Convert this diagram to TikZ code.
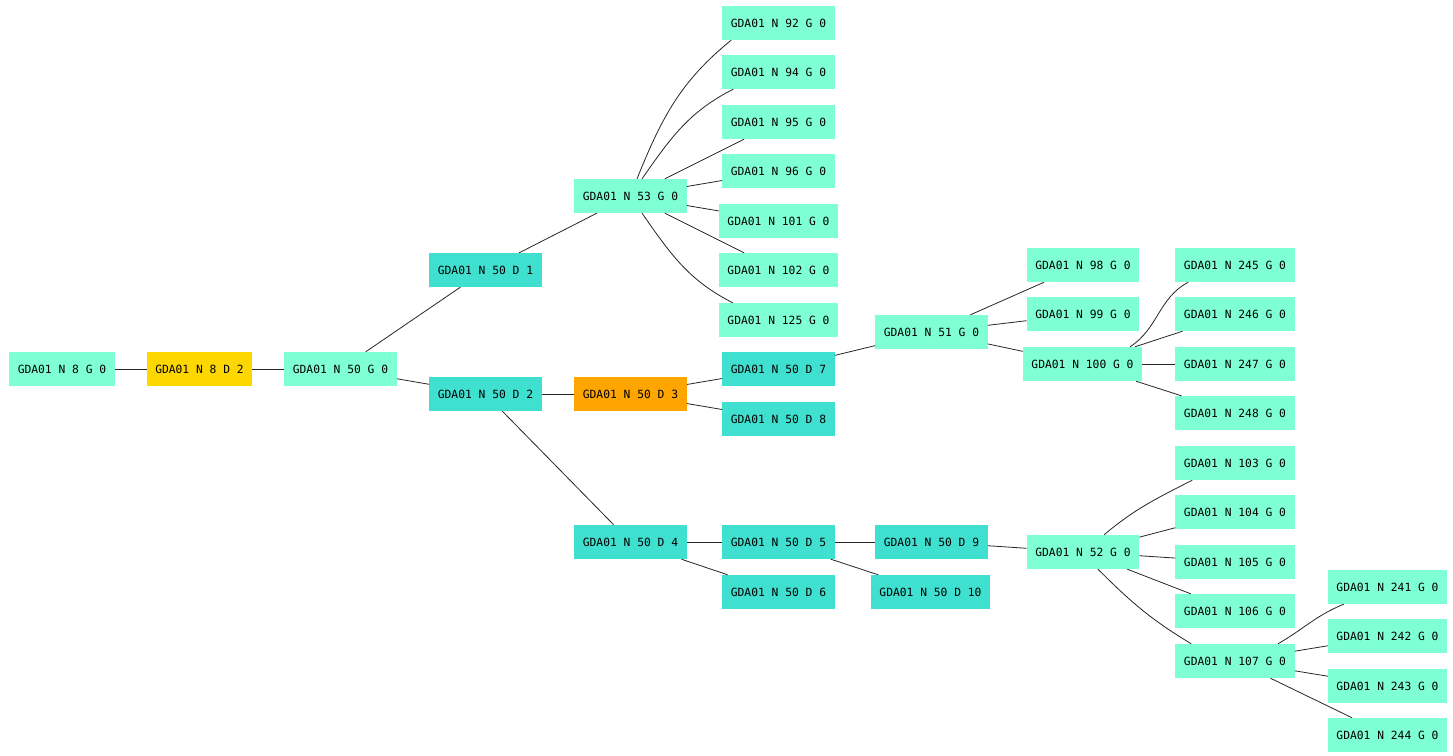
\documentclass[tikz,border=0pt]{standalone}
\usepackage{fontspec}
\setmonofont{DejaVu Sans Mono}
\definecolor{aqua}{HTML}{7FFFD4}
\definecolor{turq}{HTML}{40E0D0}
\definecolor{goldc}{HTML}{FFD700}
\definecolor{orangec}{HTML}{FFA500}
\begin{document}
\begin{tikzpicture}[x=1pt,y=-1pt,
  box/.style={rectangle,inner xsep=8.5pt,inner ysep=0pt,minimum height=34pt,
    font=\ttfamily\fontsize{11.3}{13}\selectfont,text=black},
  gn/.style={box,fill=aqua},
  dn/.style={box,fill=turq},
  edge/.style={draw=black!85,line width=0.8pt}]
\useasboundingbox (0,0) rectangle (1453,755);
% nodes
\node[gn] (n8g) at (62,369) {GDA01 N 8 G 0};
\node[box,fill=goldc] (n8d2) at (199.5,369) {GDA01 N 8 D 2};
\node[gn] (n50g) at (340.5,369) {GDA01 N 50 G 0};
\node[dn] (d1) at (485.5,270) {GDA01 N 50 D 1};
\node[dn] (d2) at (485.5,394) {GDA01 N 50 D 2};
\node[gn] (n53) at (630.5,196) {GDA01 N 53 G 0};
\node[gn] (n92) at (778.5,23) {GDA01 N 92 G 0};
\node[gn] (n94) at (778.5,72) {GDA01 N 94 G 0};
\node[gn] (n95) at (778.5,122) {GDA01 N 95 G 0};
\node[gn] (n96) at (778.5,171) {GDA01 N 96 G 0};
\node[gn] (n101) at (778.5,221) {GDA01 N 101 G 0};
\node[gn] (n102) at (778.5,270) {GDA01 N 102 G 0};
\node[gn] (n125) at (778.5,320) {GDA01 N 125 G 0};
\node[box,fill=orangec] (d3) at (630.5,394) {GDA01 N 50 D 3};
\node[dn] (d7) at (778.5,369) {GDA01 N 50 D 7};
\node[dn] (d8) at (778.5,419) {GDA01 N 50 D 8};
\node[gn] (n51) at (931.5,332) {GDA01 N 51 G 0};
\node[gn] (n98) at (1083,265) {GDA01 N 98 G 0};
\node[gn] (n99) at (1083,314) {GDA01 N 99 G 0};
\node[gn] (n100) at (1082.5,364) {GDA01 N 100 G 0};
\node[gn] (n245) at (1235,265) {GDA01 N 245 G 0};
\node[gn] (n246) at (1235,314) {GDA01 N 246 G 0};
\node[gn] (n247) at (1235,364) {GDA01 N 247 G 0};
\node[gn] (n248) at (1235,413) {GDA01 N 248 G 0};
\node[dn] (d4) at (630.5,542) {GDA01 N 50 D 4};
\node[dn] (d5) at (778.5,542) {GDA01 N 50 D 5};
\node[dn] (d6) at (778.5,592) {GDA01 N 50 D 6};
\node[dn] (d9) at (931.5,542) {GDA01 N 50 D 9};
\node[dn] (d10) at (930.5,592) {GDA01 N 50 D 10};
\node[gn] (n52) at (1083,552) {GDA01 N 52 G 0};
\node[gn] (n103) at (1235,463) {GDA01 N 103 G 0};
\node[gn] (n104) at (1235,512) {GDA01 N 104 G 0};
\node[gn] (n105) at (1235,562) {GDA01 N 105 G 0};
\node[gn] (n106) at (1235,611) {GDA01 N 106 G 0};
\node[gn] (n107) at (1235,661) {GDA01 N 107 G 0};
\node[gn] (n241) at (1387.5,587) {GDA01 N 241 G 0};
\node[gn] (n242) at (1387.5,636) {GDA01 N 242 G 0};
\node[gn] (n243) at (1387.5,686) {GDA01 N 243 G 0};
\node[gn] (n244) at (1387.5,735) {GDA01 N 244 G 0};
% edges
\path[edge] (n8g) -- (n8d2);
\path[edge] (n8d2) -- (n50g);
\path[edge] (n50g) -- (d1);
\path[edge] (n50g) -- (d2);
\path[edge] (d1) -- (n53);
\path[edge] ([xshift=6.5pt]n53.north) to[out=68,in=219] ([xshift=9pt]n92.south west);
\path[edge] ([xshift=11.5pt]n53.north) to[out=55,in=207] ([xshift=11pt]n94.south west);
\path[edge] (n53) -- (n95);
\path[edge] (n53) -- (n96);
\path[edge] (n53) -- (n101);
\path[edge] (n53) -- (n102);
\path[edge] ([xshift=11.5pt]n53.south) to[out=-55,in=153] ([xshift=14pt]n125.north west);
\path[edge] (d2) -- (d3);
\path[edge] (d2) -- (d4);
\path[edge] (d3) -- (d7);
\path[edge] (d3) -- (d8);
\path[edge] (d7) -- (n51);
\path[edge] (n51) -- (n98);
\path[edge] (n51) -- (n99);
\path[edge] (n51) -- (n100);
\path[edge] ([xshift=47.5pt]n100.north) to[out=33,in=208] ([xshift=13pt]n245.south west);
\path[edge] (n100) -- (n246);
\path[edge] (n100) -- (n247);
\path[edge] (n100) -- (n248);
\path[edge] (d4) -- (d5);
\path[edge] (d4) -- (d6);
\path[edge] (d5) -- (d9);
\path[edge] (d5) -- (d10);
\path[edge] (d9) -- (n52);
\path[edge] ([xshift=21pt]n52.north) to[out=40,in=207] ([xshift=17pt]n103.south west);
\path[edge] (n52) -- (n104);
\path[edge] (n52) -- (n105);
\path[edge] (n52) -- (n106);
\path[edge] ([xshift=15pt]n52.south) to[out=-45,in=149] ([xshift=16pt]n107.north west);
\path[edge] ([xshift=43pt]n107.north) to[out=30,in=202] ([xshift=16pt]n241.south west);
\path[edge] (n107) -- (n242);
\path[edge] (n107) -- (n243);
\path[edge] (n107) -- (n244);
\end{tikzpicture}
\end{document}
